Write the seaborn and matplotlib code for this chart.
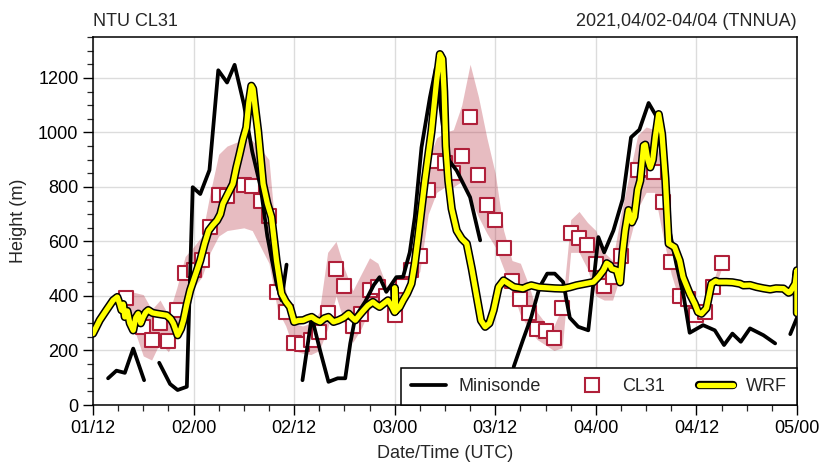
import numpy as np
import pandas as pd
import seaborn as sns
import matplotlib
matplotlib.use("Agg")
import matplotlib.pyplot as plt
import matplotlib.patheffects as pe
from matplotlib.lines import Line2D
from matplotlib.ticker import MultipleLocator

# Hours since 2021-04-01 12 UTC
tick_hours = [0, 12, 24, 36, 48, 60, 72, 84]
tick_labels = ["01/12", "02/00", "02/12", "03/00", "03/12", "04/00", "04/12", "05/00"]

# Minisonde boundary-layer height, split into continuous segments
sonde_seg1_h = [1.8, 2.8, 3.8, 4.8, 6.1]
sonde_seg1_v = [98, 126, 118, 207, 91]
sonde_seg2_h = [7.9, 9.2, 10.1, 11.2, 11.9, 12.8, 13.9, 14.95, 16.0, 16.9, 18.0, 19.0,
                20.0, 20.8, 21.9, 22.5, 23.1]
sonde_seg2_v = [155, 77, 55, 67, 799, 774, 862, 1228, 1183, 1248, 1104, 930,
                800, 620, 445, 384, 515]
sonde_seg3_h = [25.0, 26.1, 27.1, 28.1, 29.2, 30.1, 30.7, 31.3, 32.5, 33.5, 34.2, 35.0,
                36.2, 37.0, 37.8, 38.4, 39.2, 40.2, 40.9, 42.2, 43.4, 45.0, 46.2]
sonde_seg3_v = [91, 323, 200, 85, 98, 98, 226, 323, 380, 440, 469, 415,
                469, 470, 560, 689, 945, 1128, 1235, 909, 860, 762, 604]
sonde_seg4_h = [50.2, 51.3, 52.3, 53.3, 54.2, 55.1, 56.1, 56.9, 57.9, 59.1, 60.3, 61.0,
                62.1, 63.2, 64.2, 65.2, 66.3, 67.4, 68.8, 69.6, 70.5, 71.2, 72.8, 74.2,
                75.3, 76.3, 77.3, 78.4, 80.0, 81.4]
sonde_seg4_v = [140, 238, 323, 433, 482, 482, 451, 320, 287, 274, 616, 560,
                640, 755, 982, 1010, 1108, 1050, 640, 518, 396, 265, 293, 274,
                220, 262, 232, 281, 256, 226]
sonde_seg5_h = [83.2, 84.0]
sonde_seg5_v = [260, 320]

# CL31 ceilometer: hourly mean with min/max range
cl31_hours = [4, 6, 7, 8, 9, 10, 11, 12, 13, 14, 15, 16, 18, 19, 20, 21, 22, 23, 24, 25,
              26, 27, 28, 29, 30, 31, 32, 33, 34, 35, 36, 37, 38, 39, 40, 41, 42, 43, 44,
              45, 46, 47, 48, 49, 50, 51, 52, 53, 54, 55, 56, 57, 58, 59, 60, 61, 62, 63,
              65, 66, 67, 68, 69, 70, 71, 72, 73, 74, 75]
cl31_mean = [391, 288, 239, 300, 235, 350, 486, 494, 532, 652, 771, 766, 807, 802, 748, 695,
             415, 341, 229, 222, 238, 268, 339, 500, 437, 290, 335, 423, 434, 400, 331, 435,
             495, 548, 788, 896, 887, 850, 915, 1057, 844, 732, 679, 576, 456, 390, 338,
             279, 270, 246, 355, 630, 612, 588, 518, 437, 470, 546, 862, 866, 855, 745,
             525, 401, 390, 329, 340, 433, 520]
cl31_low = [360, 180, 165, 230, 195, 260, 380, 430, 470, 560, 620, 640, 650, 640, 580, 520,
            350, 290, 200, 190, 185, 200, 280, 400, 300, 230, 280, 350, 380, 370, 310, 380,
            440, 490, 700, 780, 800, 800, 820, 760, 690, 630, 580, 500, 420, 330, 280,
            240, 220, 200, 210, 560, 560, 500, 400, 385, 385, 480, 720, 780, 780, 620,
            480, 380, 360, 310, 320, 410, 500]
cl31_high = [420, 405, 350, 385, 330, 430, 545, 580, 620, 780, 920, 950, 975, 970, 940, 900,
             560, 420, 300, 290, 300, 340, 560, 600, 500, 420, 480, 540, 520, 440, 400, 460,
             540, 600, 900, 980, 1000, 1010, 1100, 1250, 1130, 980, 850, 640, 530, 520, 440,
             340, 300, 290, 360, 680, 710, 670, 640, 560, 530, 700, 990, 1020, 1010, 830,
             620, 440, 410, 350, 360, 450, 550]

# WRF simulated boundary-layer height
wrf_hours = [0.0, 0.8, 1.6, 2.4, 2.9, 3.2, 3.4, 3.6, 3.8, 4.1, 4.4, 4.8, 5.1, 5.4, 5.7, 6.0,
             6.3, 6.6, 7.1, 7.6, 8.2, 8.8, 9.3, 9.6, 10.1, 10.5, 10.8, 11.2, 11.6, 12.2,
             12.8, 13.3, 13.8, 14.3, 14.8, 15.2, 15.5, 16.1, 16.7, 17.1, 17.5, 17.9, 18.3,
             18.6, 18.9, 19.1, 19.4, 19.7, 20.3, 20.8, 21.3, 21.6, 21.9, 22.5, 23.0, 23.5,
             24.0, 24.5, 25.1, 25.6, 26.1, 26.6, 27.1, 27.6, 28.1, 28.7, 29.3, 29.9, 30.5,
             30.9, 31.3, 31.8, 32.3, 32.8, 33.4, 33.8, 34.2, 34.7, 35.2, 35.7, 36.0, 36.0,
             36.1, 36.6, 37.0, 37.5, 38.0, 38.4, 38.8, 39.2, 39.6, 40.0, 40.4, 40.7, 41.0,
             41.4, 41.7, 41.9, 42.1, 42.4, 42.8, 43.4, 44.0, 44.6, 45.2, 45.8, 46.3, 46.8,
             47.3, 47.8, 48.4, 49.0, 49.6, 50.2, 50.8, 51.3, 51.8, 52.3, 53.2, 54.1, 55.1,
             56.1, 56.9, 57.7, 58.7, 59.7, 60.3, 60.9, 61.3, 61.7, 61.9, 62.5, 62.9, 63.2,
             63.5, 63.9, 64.3, 64.6, 65.0, 65.3, 65.7, 65.9, 66.2, 66.5, 66.8, 67.1, 67.5,
             67.9, 68.3, 68.7, 69.4, 70.0, 70.4, 70.8, 71.2, 71.8, 72.2, 72.6, 73.2, 73.5,
             73.8, 74.3, 74.6, 75.6, 76.3, 77.2, 77.6, 78.4, 79.2, 80.0, 80.8, 81.5, 82.4,
             83.0, 83.2, 83.8, 84.0, 84.0]
wrf_height = [262, 311, 348, 384, 396, 370, 348, 370, 323, 345, 300, 274, 320, 335, 300, 323,
              340, 348, 338, 335, 332, 329, 315, 299, 256, 280, 311, 370, 421, 475,
              530, 590, 640, 660, 677, 700, 738, 775, 811, 870, 921, 975, 1018,
              1110, 1171, 1160, 1080, 1006, 811, 740, 689, 610, 530, 409, 380, 360,
              305, 310, 311, 318, 323, 312, 305, 318, 323, 305, 311, 320, 335,
              322, 311, 330, 348, 365, 378, 368, 360, 372, 384, 360, 341, 430,
              345, 360, 384, 410, 445, 520, 616, 720, 823, 915, 1006, 1100, 1189,
              1287, 1270, 1150, 950, 823, 720, 640, 610, 592, 500, 396, 310, 287,
              300, 348, 433, 457, 445, 433, 430, 427, 434, 439, 432, 430, 428,
              427, 432, 439, 445, 451, 470, 494, 520, 512, 500, 494, 450, 560,
              640, 715, 670, 690, 790, 823, 951, 955, 900, 872, 900, 982, 1067,
              994, 830, 592, 579, 530, 470, 440, 409, 372, 341, 335, 355, 400,
              445, 455, 451, 451, 450, 445, 439, 440, 433, 428, 424, 428, 427,
              412, 415, 445, 494, 337]

sonde = pd.concat([
    pd.DataFrame({"hour": h, "height": v, "seg": i})
    for i, (h, v) in enumerate([(sonde_seg1_h, sonde_seg1_v), (sonde_seg2_h, sonde_seg2_v),
                                (sonde_seg3_h, sonde_seg3_v), (sonde_seg4_h, sonde_seg4_v),
                                (sonde_seg5_h, sonde_seg5_v)])
], ignore_index=True)
cl31 = pd.DataFrame({"hour": cl31_hours, "height": cl31_mean,
                     "low": cl31_low, "high": cl31_high})
wrf = pd.DataFrame({"hour": wrf_hours, "height": wrf_height})

sns.set_style("ticks")
plt.rcParams["font.family"] = ["Liberation Sans", "DejaVu Sans"]

fig = plt.figure(figsize=(8.25, 4.68), dpi=100)
ax = fig.add_axes([0.1127, 0.1346, 0.8533, 0.7863])

red = "#b0203a"
outline = [pe.Stroke(linewidth=6.0, foreground="black"), pe.Normal()]

ax.fill_between(cl31["hour"], cl31["low"], cl31["high"], color="#b22234",
                alpha=0.3, lw=0, zorder=1)
sns.scatterplot(data=cl31, x="hour", y="height", marker="s", s=100, color="white",
                edgecolor=red, linewidth=1.5, zorder=3, ax=ax, legend=False)
sns.lineplot(data=sonde, x="hour", y="height", units="seg", estimator=None,
             color="black", lw=2.7, zorder=4, ax=ax, legend=False)
sns.lineplot(data=wrf, x="hour", y="height", estimator=None, sort=False,
             color="#ffff00", lw=3.8, zorder=5, path_effects=outline, ax=ax, legend=False)

ax.set_xlim(0, 84)
ax.set_ylim(0, 1350)
ax.set_xticks(tick_hours)
ax.set_xticklabels(tick_labels)
ax.xaxis.set_minor_locator(MultipleLocator(3))
ax.yaxis.set_major_locator(MultipleLocator(200))
ax.yaxis.set_minor_locator(MultipleLocator(50))
ax.grid(True, which="major", color="#dcdcdc", lw=1.0, zorder=0)
ax.set_axisbelow(True)
ax.tick_params(which="major", length=7, width=1.0, labelsize=13, direction="out",
               colors="black")
ax.tick_params(which="minor", length=4, width=0.9, direction="out")
for s in ax.spines.values():
    s.set_linewidth(1.1)
    s.set_color("black")

ax.set_xlabel("Date/Time (UTC)", fontsize=13, labelpad=6)
ax.set_ylabel("Height (m)", fontsize=13, labelpad=8)
ax.set_title("NTU CL31", loc="left", fontsize=13, pad=8)
ax.set_title("2021,04/02-04/04 (TNNUA)", loc="right", fontsize=13, pad=8)

handles = [
    Line2D([], [], color="black", lw=2.7),
    Line2D([], [], marker="s", ls="none", mfc="white", mec=red, ms=10, mew=1.5),
    Line2D([], [], color="#ffff00", lw=3.8, path_effects=outline),
]
leg = ax.legend(handles, ["Minisonde", "CL31", "WRF"], ncol=3, loc="lower right",
                borderaxespad=0, fancybox=False, edgecolor="black", framealpha=1,
                fontsize=13, handlelength=1.9, columnspacing=1.9, borderpad=0.55,
                handletextpad=0.7)
leg.get_frame().set_linewidth(1.1)
leg.set_zorder(10)

fig.savefig("out.png", dpi=100)
